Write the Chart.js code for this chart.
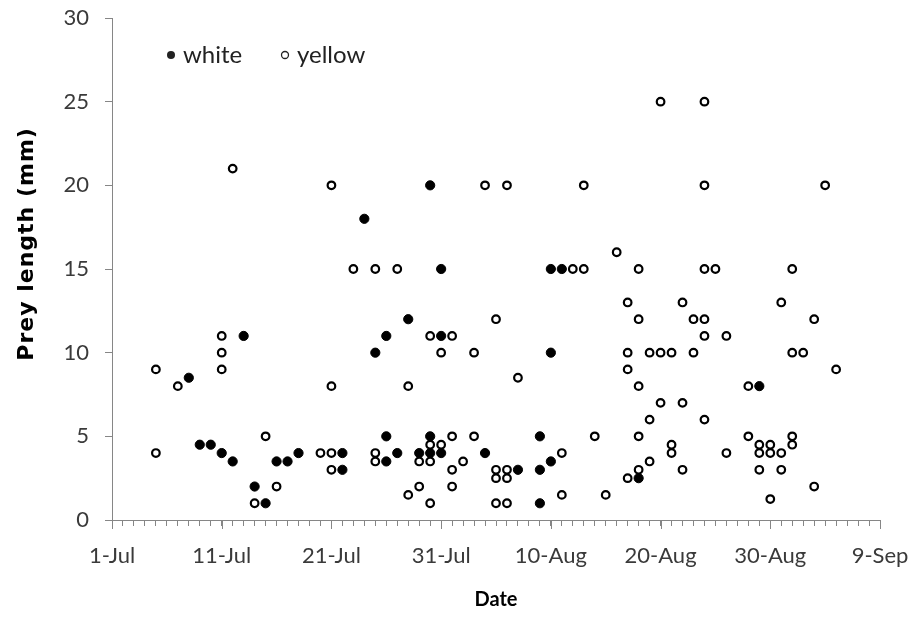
<!DOCTYPE html>
<html>
<head>
<meta charset="utf-8">
<script src="https://cdn.jsdelivr.net/npm/chart.js@4.4.1/dist/chart.umd.min.js"></script>
<style>
  html, body { margin: 0; padding: 0; background: #fff; }
  #wrap { width: 916px; height: 618px; }
</style>
</head>
<body>
<div id="wrap"><canvas id="chart" width="916" height="618"></canvas></div>
<script>
// x values are days after 1-Jul
const xTickLabels = ["1-Jul", "11-Jul", "21-Jul", "31-Jul", "10-Aug", "20-Aug", "30-Aug", "9-Sep"];
const seriesNames = ["white", "yellow"];
const yTitle = "Prey length (mm)";

const whiteDay = [7, 8, 9, 10, 11, 12, 13, 14, 15, 16, 17, 21, 21, 23, 24, 25, 25, 25, 26, 27,
  28, 29, 29, 29, 30, 30, 30, 34, 37, 39, 39, 39, 40, 40, 40, 41, 48, 59];
const whiteLen = [8.5, 4.5, 4.5, 4, 3.5, 11, 2, 1, 3.5, 3.5, 4, 4, 3, 18, 10, 11, 5, 3.5, 4, 12,
  4, 20, 5, 4, 15, 11, 4, 4, 3, 5, 3, 1, 15, 10, 3.5, 15, 2.5, 8];

const yellowDay = [
  4, 4, 6, 10, 10, 10, 11, 13, 14, 15, 19,
  20, 20, 20, 20, 22, 24, 24, 24, 26, 27, 27, 28, 28,
  29, 29, 29, 29, 30, 30, 31, 31, 31, 31, 32, 33, 33, 34,
  35, 35, 35, 35, 36, 36, 36, 36, 37, 41, 41, 42, 43, 43, 44, 45, 46,
  47, 47, 47, 47, 48, 48, 48, 48, 48, 49, 49, 49, 50, 50, 50,
  51, 51, 51, 52, 52, 52, 53, 53, 54, 54, 54, 54, 54, 54, 55, 56, 56,
  58, 58, 59, 59, 59, 60, 60, 60, 61, 61, 61, 62, 62, 62, 62, 63, 64, 64, 65, 66];
const yellowLen = [
  9, 4, 8, 11, 10, 9, 21, 1, 5, 2, 4,
  20, 8, 4, 3, 15, 15, 4, 3.5, 15, 8, 1.5, 3.5, 2,
  11, 4.5, 3.5, 1, 10, 4.5, 11, 5, 3, 2, 3.5, 10, 5, 20,
  12, 3, 2.5, 1, 20, 3, 2.5, 1, 8.5, 4, 1.5, 15, 20, 15, 5, 1.5, 16,
  13, 10, 9, 2.5, 15, 12, 8, 5, 3, 10, 6, 3.5, 25, 10, 7,
  10, 4.5, 4, 13, 7, 3, 12, 10, 25, 20, 15, 12, 11, 6, 15, 11, 4,
  8, 5, 4.5, 4, 3, 4.5, 4, 1.25, 13, 4, 3, 15, 10, 5, 4.5, 10, 12, 2, 20, 9];

const toPoints = (xs, ys) => xs.map((x, i) => ({ x: x, y: ys[i] }));

const axisGray = "#868686";
const textGray = "#3a3a3a";
const fontFamily = "Lato, 'Liberation Sans', sans-serif";

// longer ticks every 10 days
const majorTicks = {
  id: "majorTicks",
  afterDraw(chart) {
    const { ctx, scales: { x } } = chart;
    ctx.save();
    ctx.strokeStyle = axisGray;
    ctx.lineWidth = 1;
    for (let v = 0; v <= 70; v += 10) {
      const px = Math.round(x.getPixelForValue(v)) + 0.5;
      ctx.beginPath();
      ctx.moveTo(px, x.top);
      ctx.lineTo(px, x.top + 9);
      ctx.stroke();
    }
    ctx.restore();
  }
};

// legend inside the plot area, plus the rotated y title
const innerLegend = {
  id: "innerLegend",
  afterDraw(chart) {
    const { ctx, chartArea, scales: { y: ys } } = chart;
    const y = chartArea.top + 37;
    ctx.save();
    ctx.font = "24px " + fontFamily;
    ctx.textBaseline = "middle";
    ctx.fillStyle = "#222";
    let x = chartArea.left + 59;
    ctx.beginPath();
    ctx.arc(x, y, 4, 0, Math.PI * 2);
    ctx.fill();
    ctx.fillText(seriesNames[0], x + 12, y);
    x = chartArea.left + 173;
    ctx.beginPath();
    ctx.arc(x, y, 3.5, 0, Math.PI * 2);
    ctx.lineWidth = 1.3;
    ctx.strokeStyle = "#222";
    ctx.stroke();
    ctx.fillText(seriesNames[1], x + 12, y);

    ctx.translate(27, ys.getPixelForValue(16.5));
    ctx.rotate(-Math.PI / 2);
    ctx.font = "bold 22px 'DejaVu Sans', sans-serif";
    ctx.letterSpacing = "1px";
    ctx.textAlign = "center";
    ctx.fillStyle = "#000";
    ctx.fillText(yTitle, 0, 0);
    ctx.restore();
  }
};

new Chart(document.getElementById("chart"), {
  type: "scatter",
  data: {
    datasets: [
      {
        label: seriesNames[1],
        data: toPoints(yellowDay, yellowLen),
        pointRadius: 3.8,
        pointBorderWidth: 2.2,
        pointBackgroundColor: "#fff",
        pointBorderColor: "#000"
      },
      {
        label: seriesNames[0],
        data: toPoints(whiteDay, whiteLen),
        pointRadius: 4.6,
        pointBorderWidth: 1,
        pointBackgroundColor: "#000",
        pointBorderColor: "#000"
      }
    ]
  },
  options: {
    responsive: false,
    animation: false,
    layout: { padding: { top: 18, right: 36, left: 0, bottom: 0 } },
    plugins: {
      legend: { display: false },
      tooltip: { enabled: false }
    },
    scales: {
      x: {
        type: "linear",
        min: 0,
        max: 70,
        afterFit: (s) => { s.height = 98; s.paddingLeft = 0; s.paddingRight = 0; },
        ticks: {
          stepSize: 1,
          autoSkip: false,
          maxRotation: 0,
          padding: 17,
          color: textGray,
          font: { family: fontFamily, size: 22 },
          callback: (v) => (v % 10 === 0 ? xTickLabels[v / 10] : "")
        },
        grid: { drawOnChartArea: false, tickLength: 6, color: axisGray },
        border: { color: axisGray },
        title: {
          display: true,
          text: "Date",
          color: "#000",
          font: { family: fontFamily, size: 20, weight: "bold" },
          padding: { top: 0, bottom: 6 }
        }
      },
      y: {
        min: 0,
        max: 30,
        afterFit: (s) => { s.width = 112; s.paddingTop = 0; s.paddingBottom = 0; },
        ticks: {
          stepSize: 5,
          padding: 16,
          color: textGray,
          font: { family: fontFamily, size: 22 }
        },
        grid: { drawOnChartArea: false, tickLength: 7, color: axisGray },
        border: { color: axisGray }
      }
    }
  },
  plugins: [majorTicks, innerLegend]
});
</script>
</body>
</html>
